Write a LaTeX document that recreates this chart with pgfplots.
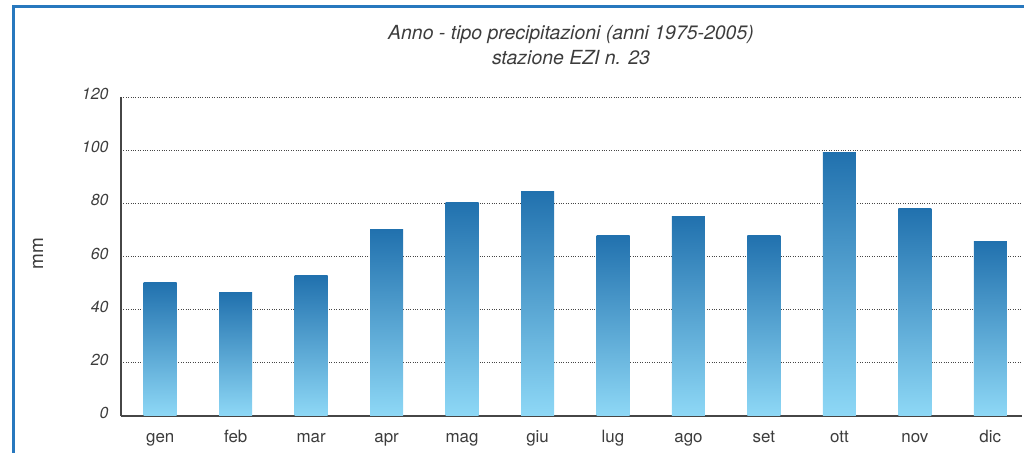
\documentclass[border=0pt]{standalone}
\usepackage{pgfplots}
\pgfplotsset{compat=1.18}
\usepackage{fontspec}
\setmainfont{TeX Gyre Heros}
\definecolor{frameblue}{RGB}{40,120,190}
\definecolor{bartop}{RGB}{33,113,174}
\definecolor{barmid}{RGB}{45,127,189}
\definecolor{barbot}{RGB}{142,216,246}
\definecolor{axisgray}{RGB}{70,70,70}
\definecolor{labgray}{RGB}{60,60,60}
\pgfplotsset{gbar/.style={draw=none, shade, top color=bartop, middle color=barmid, bottom color=barbot, bar shift=0pt}}
\begin{document}
\begin{tikzpicture}
\useasboundingbox (0bp,0bp) rectangle (1024bp,453bp);
\draw[frameblue, line width=3bp] (13.5bp,-5bp) -- (13.5bp,446.5bp) -- (1030bp,446.5bp);
\node[text=labgray, font=\fontsize{19.5}{25}\selectfont\itshape, align=center] at (571bp,408bp)
  {Anno - tipo precipitazioni (anni 1975-2005)\\stazione EZI n. 23};
\node[text=labgray, rotate=90, font=\fontsize{19}{22}\selectfont] at (38bp,199bp) {mm};
\begin{axis}[
  at={(121bp,37bp)}, anchor=south west,
  scale only axis, width=901bp, height=319bp,
  xmin=-0.52, xmax=11.42, ymin=0, ymax=120,
  axis x line=bottom, axis y line=left,
  axis line style={axisgray, line width=1.3bp, -},
  ytick={0,20,...,120},
  yticklabels={0,20,40,60,80,100,120},
  xtick={0,...,11},
  xticklabels={gen,feb,mar,apr,mag,giu,lug,ago,set,ott,nov,dic},
  major tick length=0pt,
  ymajorgrids,
  grid style={axisgray, dotted, line width=0.8bp},
  yticklabel style={text=labgray, font=\fontsize{16}{19}\selectfont\itshape, xshift=-9bp, yshift=3bp},
  xticklabel style={text=labgray, font=\fontsize{17}{20}\selectfont, anchor=base, yshift=-26bp},
  ybar, bar width=33bp,
  clip=false,
]
\addplot[gbar] coordinates {(0,50.2)};
\addplot[gbar] coordinates {(1,46.4)};
\addplot[gbar] coordinates {(2,52.8)};
\addplot[gbar] coordinates {(3,70.2)};
\addplot[gbar] coordinates {(4,80.4)};
\addplot[gbar] coordinates {(5,84.5)};
\addplot[gbar] coordinates {(6,67.9)};
\addplot[gbar] coordinates {(7,75.1)};
\addplot[gbar] coordinates {(8,67.9)};
\addplot[gbar] coordinates {(9,99.2)};
\addplot[gbar] coordinates {(10,78.1)};
\addplot[gbar] coordinates {(11,65.7)};
\end{axis}
\end{tikzpicture}
\end{document}
